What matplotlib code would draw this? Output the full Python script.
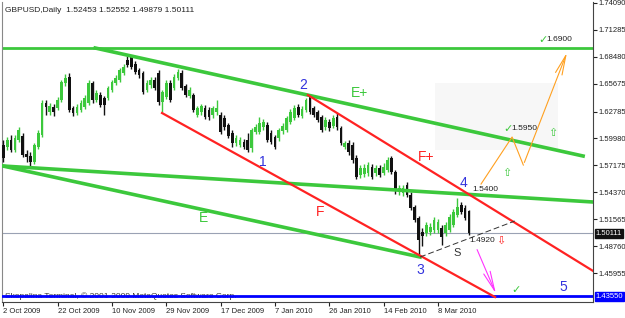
import matplotlib.pyplot as plt
import matplotlib.patches as mpatches

plt.rcParams['font.family'] = ['Liberation Sans', 'DejaVu Sans']

# daily GBPUSD candles, 2 Oct 2009 .. 18 Mar 2010 (bar index = position)
opens = [1.5932, 1.5911, 1.5984, 1.5880, 1.5984, 1.6025, 1.5838, 1.5817, 1.5755, 1.5911,
         1.6036, 1.6369, 1.6275, 1.6327, 1.6317, 1.6400, 1.6577, 1.6640, 1.6317, 1.6265,
         1.6296, 1.6327, 1.6369, 1.6577, 1.6400, 1.6452, 1.6421, 1.6421, 1.6505, 1.6577,
         1.6609, 1.6682, 1.6817, 1.6848, 1.6775, 1.6713, 1.6682, 1.6505, 1.6557, 1.6609,
         1.6682, 1.6380, 1.6432, 1.6577, 1.6525, 1.6630, 1.6682, 1.6546, 1.6442, 1.6452,
         1.6244, 1.6275, 1.6317, 1.6296, 1.6244, 1.6275, 1.6244, 1.6213, 1.6140, 1.6057,
         1.5952, 1.5932, 1.5963, 1.5984, 1.5900, 1.6067, 1.6067, 1.6119, 1.6140, 1.6057,
         1.6015, 1.6005, 1.6077, 1.6088, 1.6171, 1.6213, 1.6327, 1.6234, 1.6296, 1.6432,
         1.6317, 1.6275, 1.6223, 1.6119, 1.6171, 1.6130, 1.6223, 1.6109, 1.5911, 1.5952,
         1.5932, 1.5796, 1.5619, 1.5629, 1.5640, 1.5702, 1.5640, 1.5692, 1.5640, 1.5671,
         1.5796, 1.5650, 1.5442, 1.5432, 1.5515, 1.5411, 1.5286, 1.5171, 1.5025, 1.5015,
         1.5025, 1.5046, 1.5046, 1.5067, 1.5015, 1.5046, 1.5098, 1.5202, 1.5307, 1.5275,
         1.52453]
highs = [1.5984, 1.6015, 1.6036, 1.6036, 1.6119, 1.6057, 1.5880, 1.5859, 1.5952, 1.6088,
         1.6400, 1.6400, 1.6369, 1.6359, 1.6432, 1.6609, 1.6671, 1.6682, 1.6338, 1.6359,
         1.6400, 1.6452, 1.6609, 1.6598, 1.6505, 1.6484, 1.6442, 1.6546, 1.6609, 1.6661,
         1.6734, 1.6775, 1.6859, 1.6869, 1.6807, 1.6734, 1.6702, 1.6609, 1.6640, 1.6640,
         1.6713, 1.6505, 1.6609, 1.6609, 1.6671, 1.6723, 1.6713, 1.6567, 1.6536, 1.6473,
         1.6338, 1.6359, 1.6348, 1.6327, 1.6338, 1.6400, 1.6275, 1.6244, 1.6161, 1.6088,
         1.6036, 1.6015, 1.5994, 1.6057, 1.6109, 1.6150, 1.6223, 1.6202, 1.6171, 1.6088,
         1.6036, 1.6109, 1.6161, 1.6234, 1.6307, 1.6348, 1.6359, 1.6338, 1.6421, 1.6452,
         1.6338, 1.6296, 1.6244, 1.6223, 1.6202, 1.6244, 1.6265, 1.6130, 1.5973, 1.5984,
         1.5963, 1.5827, 1.5723, 1.5734, 1.5755, 1.5734, 1.5723, 1.5723, 1.5744, 1.5807,
         1.5817, 1.5671, 1.5515, 1.5515, 1.5546, 1.5442, 1.5307, 1.5192, 1.5067, 1.5130,
         1.5119, 1.5182, 1.5161, 1.5098, 1.5130, 1.5213, 1.5265, 1.5379, 1.5338, 1.5307,
         1.52552]
lows = [1.5755, 1.5880, 1.5859, 1.5859, 1.5963, 1.5807, 1.5755, 1.5702, 1.5734, 1.5890,
        1.6015, 1.6244, 1.6244, 1.6234, 1.6296, 1.6380, 1.6546, 1.6275, 1.6234, 1.6244,
        1.6275, 1.6307, 1.6348, 1.6369, 1.6380, 1.6327, 1.6244, 1.6400, 1.6484, 1.6557,
        1.6588, 1.6661, 1.6744, 1.6723, 1.6671, 1.6630, 1.6463, 1.6484, 1.6525, 1.6505,
        1.6348, 1.6275, 1.6411, 1.6380, 1.6505, 1.6609, 1.6505, 1.6432, 1.6421, 1.6275,
        1.6223, 1.6244, 1.6202, 1.6192, 1.6213, 1.6244, 1.6046, 1.6088, 1.6005, 1.5911,
        1.5921, 1.5911, 1.5890, 1.5859, 1.5859, 1.6046, 1.6046, 1.6088, 1.5963, 1.5942,
        1.5890, 1.5973, 1.6046, 1.6067, 1.6150, 1.6192, 1.6223, 1.6213, 1.6275, 1.6255,
        1.6223, 1.6171, 1.6067, 1.6088, 1.6077, 1.6109, 1.6088, 1.5932, 1.5890, 1.5827,
        1.5744, 1.5577, 1.5588, 1.5598, 1.5609, 1.5577, 1.5609, 1.5598, 1.5619, 1.5650,
        1.5629, 1.5421, 1.5411, 1.5400, 1.5390, 1.5254, 1.5130, 1.4775, 1.4880, 1.4984,
        1.4994, 1.5015, 1.5015, 1.4890, 1.4984, 1.5025, 1.5077, 1.5182, 1.5213, 1.5150,
        1.49879]
closes = [1.5796, 1.5984, 1.5880, 1.6005, 1.6088, 1.5827, 1.5807, 1.5755, 1.5932, 1.6057,
          1.6369, 1.6327, 1.6338, 1.6275, 1.6400, 1.6588, 1.6630, 1.6296, 1.6265, 1.6327,
          1.6369, 1.6421, 1.6577, 1.6400, 1.6473, 1.6348, 1.6348, 1.6525, 1.6588, 1.6630,
          1.6713, 1.6744, 1.6765, 1.6744, 1.6692, 1.6661, 1.6484, 1.6577, 1.6609, 1.6525,
          1.6380, 1.6484, 1.6577, 1.6400, 1.6640, 1.6692, 1.6525, 1.6452, 1.6505, 1.6296,
          1.6317, 1.6338, 1.6223, 1.6223, 1.6317, 1.6317, 1.6067, 1.6119, 1.6025, 1.5952,
          1.6005, 1.5984, 1.5911, 1.5880, 1.6088, 1.6119, 1.6161, 1.6171, 1.5984, 1.5963,
          1.5911, 1.6088, 1.6130, 1.6213, 1.6275, 1.6317, 1.6244, 1.6307, 1.6400, 1.6275,
          1.6244, 1.6192, 1.6088, 1.6192, 1.6109, 1.6213, 1.6119, 1.5952, 1.5952, 1.5859,
          1.5775, 1.5598, 1.5692, 1.5692, 1.5723, 1.5598, 1.5692, 1.5619, 1.5702, 1.5775,
          1.5650, 1.5463, 1.5484, 1.5484, 1.5411, 1.5275, 1.5150, 1.4942, 1.4984, 1.5098,
          1.5077, 1.5150, 1.5130, 1.4973, 1.5098, 1.5182, 1.5234, 1.5286, 1.5234, 1.5171,
          1.50111]

date_ticks = [0, 14, 28, 42, 56, 70, 84, 98, 112]
date_labels = ['2 Oct 2009', '22 Oct 2009', '10 Nov 2009', '29 Nov 2009', '17 Dec 2009',
               '7 Jan 2010', '26 Jan 2010', '14 Feb 2010', '8 Mar 2010']
price_ticks = [1.74090, 1.71285, 1.68480, 1.65675, 1.62785, 1.59980, 1.57175,
               1.54370, 1.51565, 1.48760, 1.45955]
last_price = 1.50111
target_price = 1.43550
top_level = 1.6940

# trend lines: (bar, price) end points
e_plus_x, e_plus_y = [23.7, 149.4], [1.6940, 1.5815]
mid_x, mid_y = [-0.1, 152.0], [1.5711, 1.5336]
e_x, e_y = [-0.1, 107.4], [1.5711, 1.4763]
f_x, f_y = [40.9, 126.7], [1.6263, 1.4346]
f_plus_x, f_plus_y = [78.5, 152.0], [1.6450, 1.4617]
s_x, s_y = [107.4, 131.8], [1.4763, 1.5138]
orange_x = [123.1, 131.1, 134.0, 145.5]
orange_y = [1.5523, 1.6013, 1.5721, 1.6919]
magenta_x, magenta_y = [121.8, 127.2], [1.4867, 1.4357]

GREEN = '#3cc83c'
RED = '#ff2222'
BLUE_TXT = '#3333dd'

fig = plt.figure(figsize=(6.25, 3.18), dpi=100)
ax = fig.add_axes([2 / 625, 16 / 318, 591 / 625, 300 / 318])
ax.set_xlim(-0.33, 151.95)
ax.set_ylim(1.42944, 1.74194)

# candles
for i in range(len(opens)):
    up = closes[i] >= opens[i]
    col = GREEN if up else '#111111'
    ax.vlines(i, lows[i], highs[i], color=col, lw=1, zorder=3)
    lo, hi = min(opens[i], closes[i]), max(opens[i], closes[i])
    ax.bar(i, max(hi - lo, 0.0004), bottom=lo, width=0.7, color=col, lw=0, zorder=4)

# horizontal levels
ax.axhline(top_level, color=GREEN, lw=2, zorder=2)
ax.axhline(last_price, color='#9aa2b4', lw=0.8, zorder=1)
ax.axhline(target_price, color='#0000ff', lw=2, zorder=5)

# faint dotted zone
ax.add_patch(mpatches.Rectangle((111.2, 1.5880), 31.7, 0.0695, facecolor='#f7f7f7',
                                edgecolor='none', zorder=0))

ax.plot(e_plus_x, e_plus_y, color=GREEN, lw=2.6, zorder=5)
ax.plot(mid_x, mid_y, color=GREEN, lw=2.6, zorder=5)
ax.plot(e_x, e_y, color=GREEN, lw=2.6, zorder=5)
ax.plot(f_x, f_y, color=RED, lw=1.6, zorder=5)
ax.plot(f_plus_x, f_plus_y, color=RED, lw=1.6, zorder=5)
ax.plot(s_x, s_y, color='#333333', lw=0.7, ls=(0, (6, 3)), zorder=5)
ax.plot(orange_x[:-1], orange_y[:-1], color='#ffa020', lw=0.8, zorder=5)
ax.annotate('', xy=(orange_x[-1], orange_y[-1]), xytext=(orange_x[-2], orange_y[-2]),
            arrowprops=dict(arrowstyle='->,head_length=1.4,head_width=0.25',
                            color='#ffa020', lw=0.8), zorder=5)
ax.annotate('', xy=(magenta_x[1], magenta_y[1]), xytext=(magenta_x[0], magenta_y[0]),
            arrowprops=dict(arrowstyle='->,head_length=1.4,head_width=0.25',
                            color='#ff33ff', lw=0.8), zorder=5)

# labels on the chart
big = dict(fontsize=10, ha='center', va='center', zorder=6)
for s, x, y in [('1', 66.9, 1.5752), ('2', 77.2, 1.6550), ('3', 107.4, 1.4627),
                ('4', 118.7, 1.5534), ('5', 144.2, 1.4450)]:
    ax.text(x, y, s, color=BLUE_TXT, **big)
ax.text(91.8, 1.6470, 'E+', color=GREEN, **big)
ax.text(51.5, 1.5170, 'E', color=GREEN, **big)
ax.text(109.0, 1.5810, 'F+', color=RED, **big)
ax.text(81.6, 1.5230, 'F', color=RED, **big)
ax.text(117.0, 1.4810, 'S', color='#333333', fontsize=8, ha='center', va='center', zorder=6)

small = dict(fontsize=6, va='center', zorder=6)
sym = dict(fontsize=8, va='center', zorder=6, family='DejaVu Sans')
ax.text(120.8, 1.5470, '1.5400', color='#222222', **small)
ax.text(120.0, 1.4930, '1.4920', color='#222222', **small)
ax.text(127.0, 1.4930, '\u21e9', color=RED, **sym)
ax.text(128.8, 1.6096, '\u2713', color=GREEN, **sym)
ax.text(130.9, 1.6100, '1.5950', color='#222222', **small)
ax.text(137.9, 1.7020, '\u2713', color=GREEN, **sym)
ax.text(140.0, 1.7025, '1.6900', color='#222222', **small)
ax.text(131.0, 1.4420, '\u2713', color=GREEN, **sym)
ax.text(128.5, 1.5640, '\u21e7', color=GREEN, **sym)
ax.text(140.5, 1.6060, '\u21e7', color=GREEN, **sym)

ax.text(0.005, 0.985, 'GBPUSD,Daily  1.52453 1.52552 1.49879 1.50111', transform=ax.transAxes,
        fontsize=6, va='top', ha='left', color='#222222', zorder=6)
ax.text(0.005, 0.008, 'Skopalina Terminal, \u00a9 2001-2009 MetaQuotes Software Corp.',
        transform=ax.transAxes, fontsize=6, va='bottom', ha='left', color='#333333', zorder=4)

# axes look
ax.yaxis.tick_right()
ax.set_yticks(price_ticks)
ax.set_yticklabels(['%.5f' % v for v in price_ticks])
ax.set_xticks(date_ticks)
ax.set_xticklabels(date_labels, ha='left')
ax.tick_params(axis='both', labelsize=5.5, length=3, width=0.8, colors='#222222', pad=1)
ax.spines['top'].set_visible(False)
ax.spines['left'].set_color('#888888')
ax.spines['right'].set_color('#444444')
ax.spines['bottom'].set_color('#444444')

for val, bg in [(last_price, '#111111'), (target_price, '#0000ff')]:
    ax.annotate('%.5f' % val, xy=(1.0, val), xycoords=('axes fraction', 'data'),
                xytext=(2, 0), textcoords='offset points', fontsize=5.5, color='white',
                va='center', ha='left', zorder=7, annotation_clip=False,
                bbox=dict(boxstyle='square,pad=0.15', fc=bg, ec=bg))

fig.savefig('out.png', dpi=100, facecolor='white')
